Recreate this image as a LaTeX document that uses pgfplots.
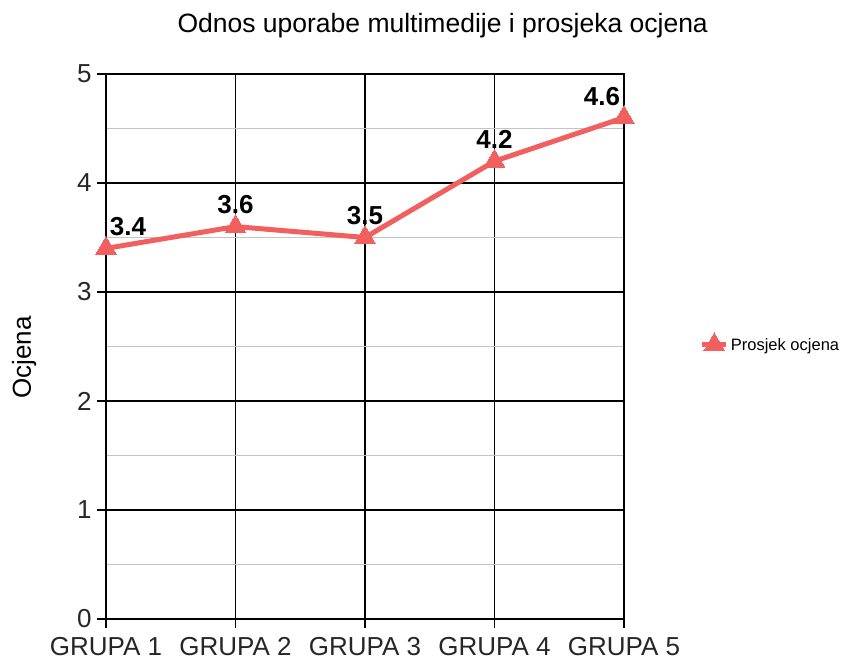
\documentclass[border=0pt]{standalone}
\usepackage{pgfplots}
\pgfplotsset{compat=1.18}
\usepackage{pgfplotstable}
\usepackage{fontspec}
\setmainfont{Liberation Sans}
\definecolor{linered}{HTML}{F25F5F}
\definecolor{minorgray}{HTML}{C4C4C4}
\pgfplotstableread{
x y dx
0 3.4 22
1 3.6 0
2 3.5 0
3 4.2 0
4 4.6 -22
}\datatable
\begin{document}
\begin{tikzpicture}[x=1pt,y=1pt]
\path[use as bounding box] (0,0) rectangle (841,660);
\begin{axis}[
  at={(106pt,41pt)}, anchor=south west,
  scale only axis,
  width=518pt, height=545pt,
  xmin=0, xmax=4, ymin=0, ymax=5,
  xtick={0,1,2,3,4},
  xticklabels={GRUPA 1,GRUPA 2,GRUPA 3,GRUPA 4,GRUPA 5},
  ytick={0,1,2,3,4,5},
  minor ytick={0.5,1.5,2.5,3.5,4.5},
  grid=both,
  major grid style={black, line width=1.2pt},
  minor grid style={minorgray, line width=1pt},
  axis line style={black, line width=1.2pt},
  tick style={black, line width=1.2pt},
  major tick length=9pt, minor tick length=0pt,
  tick align=outside,
  xtick pos=bottom, ytick pos=left,
  /pgf/number format/assume math mode=true,
  ticklabel style={text=black!85},
  xticklabel style={font=\fontsize{26}{30}\selectfont, inner ysep=1pt, yshift=-8pt},
  yticklabel style={font=\fontsize{26}{30}\selectfont, xshift=-2pt},
  title={Odnos uporabe multimedije i prosjeka ocjena},
  title style={font=\fontsize{26.5}{30}\selectfont, at={(axis description cs:0.65,1.078)}, anchor=center},
  ylabel={Ocjena},
  every axis y label/.append style={at={(axis description cs:-0.158,0.48)}, anchor=center, rotate=0},
  ylabel style={font=\fontsize{26}{30}\selectfont},
  legend style={at={(axis description cs:1.14,0.506)}, anchor=west, draw=none, fill=none,
    font=\fontsize{16.5}{18}\selectfont},
  legend image code/.code={
    \draw[#1, line width=5pt] (0cm,0cm) -- (0.85cm,0cm);
    \draw[mark repeat=2,mark phase=2,#1] plot coordinates {(0cm,0cm) (0.425cm,0cm) (0.85cm,0cm)};
  },
  clip=false,
]
\addplot[color=linered, line width=5pt, mark=triangle*, mark size=12pt,
  mark options={solid, fill=linered, draw=linered, line width=0pt},
  nodes near coords,
  point meta=explicit symbolic,
  visualization depends on={\thisrow{dx} \as \dx},
  every node near coord/.append style={font=\fontsize{26}{30}\bfseries\selectfont, text=black, anchor=south, yshift=9pt, xshift=\dx pt},
] table[x=x, y=y, meta=y] {\datatable};
\addlegendentry{Prosjek ocjena}
\end{axis}
\end{tikzpicture}
\end{document}
